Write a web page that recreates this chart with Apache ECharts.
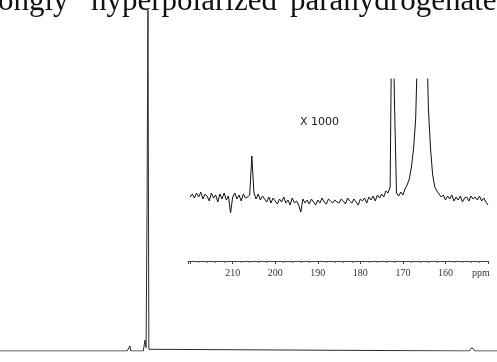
<!DOCTYPE html>
<html>
<head>
<meta charset="utf-8">
<script src="https://cdn.jsdelivr.net/npm/echarts@6/dist/echarts.min.js"></script>
<style>html,body{margin:0;padding:0;background:#fff;}#c{width:497px;height:362px;}</style>
</head>
<body>
<div id="c"></div>
<script>
// Main spectrum (full range, hidden axis, ppm)
const mainPpm = [230, 175.0, 174.2, 173.8, 173.4, 168.0, 167.3, 166.8, 166.4, 166.0, 165.6, 165.0, 27.0, 25.8, 24.6, 15];
const mainInt = [0, 0, 0.3, 1.5, 0, 0, 3.2, 1, 41, 100, 0.5, 0, 0, 1, 0, 0];

// Inset spectrum (x1000), sampled every 0.5 ppm from 220 ppm down to 150 ppm
const insetStartPpm = 220;
const insetStepPpm = 0.5;
const insetInt = [
  1, 2.5, 0.5, 3, 1, 3.5, 0, 2.5, 1.5, -1,
  3, 0.5, 2, -1.5, 2.5, 0, 3, -0.5, 1.5,
  -7, 1, 3, 0, 2, -1, 2.5, 0.5, 1, 2,
  21.5, 3, 0, 2.5, -0.5, 1.5, 0, -1.5, 1, -2,
  0.5, -1, -2.5, 0, -1.5, 1, -2, -0.5, -3, 0.5,
  -2, -1, -3, -6.5, 0, -2, -0.5, -2.5, 0, -1.5,
  -3, -0.5, -2, 0.5, -1.5, -2.5, 0, -1, -2, -0.5,
  -1.5, -2, 0, -1, -2.5, 0.5, -1, -2, 0, -1.5,
  -3, 0, -1, 0.5, -2, 1, -0.5, 1.5, -1, 2,
  0.5, 2.5, 1, 4, 3, 6, 120, 50.5, 3, 1.5,
  3.5, 2, 5, 7, 10, 16, 25, 40, 80, 150,
  200, 170, 90, 45, 25, 12, 6, 4, 2.5, 1,
  2, -0.5, 1.5, 0, 2, -1, 1, -0.5, 1.5, -1.5,
  0.5, 1, -1, 1.5, 0, 1, -0.5, 1.5, -1, 0.5,
  -1.5, -3
];
const insetTicks = [210, 200, 190, 180, 170, 160];
const headingWords = ['ongly', 'hyperpolarized', 'parahydrogenated'];
const scaleNote = 'X 1000';
const unitLabel = 'ppm';

const mainData = mainPpm.map((p, i) => [p, mainInt[i]]);
const insetData = insetInt.map((v, i) => [insetStartPpm - i * insetStepPpm, v]);

const chart = echarts.init(document.getElementById('c'), null, {renderer: 'canvas'});
const serif = '"Liberation Serif", "Times New Roman", serif';
chart.setOption({
  animation: false,
  backgroundColor: '#ffffff',
  grid: [
    {left: 0, right: 0, top: 10, bottom: 11},
    {left: 188, width: 300, top: 79, bottom: 101}
  ],
  xAxis: [
    {gridIndex: 0, type: 'value', min: 15, max: 230, inverse: true, show: false},
    {gridIndex: 1, type: 'value', min: 150, max: 220.5, inverse: true, interval: 10,
      axisLine: {show: true, onZero: false, lineStyle: {color: '#444', width: 1}},
      axisTick: {show: true, length: 3, lineStyle: {color: '#444'}},
      minorTick: {show: true, splitNumber: 5, length: 2, lineStyle: {color: '#666'}},
      splitLine: {show: false},
      axisLabel: {show: true, margin: 7, fontSize: 10, fontFamily: serif, color: '#333',
        formatter: v => insetTicks.indexOf(v) >= 0 ? String(v) : ''}
    }
  ],
  yAxis: [
    {gridIndex: 0, type: 'value', min: 0, max: 100, show: false},
    {gridIndex: 1, type: 'value', min: -31, max: 60, show: false}
  ],
  series: [
    {type: 'line', xAxisIndex: 0, yAxisIndex: 0, data: mainData, symbol: 'none',
      lineStyle: {color: '#2a2a2a', width: 1}, silent: true},
    {type: 'line', xAxisIndex: 1, yAxisIndex: 1, data: insetData, symbol: 'none', clip: true,
      lineStyle: {color: '#111', width: 1}, silent: true}
  ],
  graphic: [
    {type: 'text', left: -2, top: -14, style: {text: headingWords[0], font: '31px ' + serif, fill: '#111'}},
    {type: 'text', left: 91, top: -14, style: {text: headingWords[1], font: '31px ' + serif, fill: '#111'}},
    {type: 'text', left: 290, top: -14, style: {text: headingWords[2], font: '31px ' + serif, fill: '#111'}},
    {type: 'text', left: 300, top: 117, style: {text: scaleNote, font: '11px "DejaVu Sans", sans-serif', fill: '#222'}},
    {type: 'text', left: 472, top: 268, style: {text: unitLabel, font: '10px ' + serif, fill: '#333'}}
  ]
});
</script>
</body>
</html>
